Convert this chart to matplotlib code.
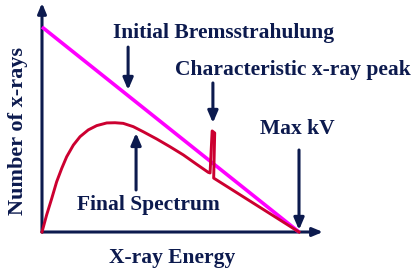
import matplotlib

matplotlib.use("Agg")
import matplotlib.pyplot as plt

# energy axis: 0 .. 100 (100 = max kV), counts: 0 .. 100 (bremsstrahlung start)
brems_x = [0, 100]
brems_y = [100, 0]

# final spectrum (hump, then the characteristic spike, then down to max kV)
final_x = [0, 1.8, 3.8, 5.7, 7.7, 9.6, 12.2, 14.8, 18.0, 21.3, 25.2, 28.4, 31.6, 35.5,
           39.4, 44.6, 49.8, 55.0, 60.2, 64.7, 65.4, 66.2, 67.2, 66.8, 100]
final_y = [0, 8.3, 16.4, 24.5, 31.1, 36.7, 42.4, 46.5, 49.8, 51.9, 53.2, 53.3, 53.0, 51.4,
           48.9, 45.4, 41.6, 37.6, 33.0, 29.1, 28.8, 49.3, 48.3, 26.3, 0]

NAVY = "#0c1a4e"
MAGENTA = "#ff00ff"
RED = "#cc0030"
FONT = dict(family="Liberation Serif", weight="bold", size=15.5, color=NAVY)

fig = plt.figure(figsize=(4.18, 2.72), dpi=100)
ax = fig.add_axes([0, 0, 1, 1])
ax.set_xlim(-16.34, 146.30)
ax.set_ylim(-19.51, 113.17)
ax.axis("off")

# axes drawn as arrows
axis_arrow = dict(arrowstyle="-|>,head_length=0.6,head_width=0.25", color=NAVY, lw=2.2,
                  shrinkA=0, shrinkB=0)
ax.annotate("", xy=(109.3, 0), xytext=(0, 0), arrowprops=axis_arrow)
ax.annotate("", xy=(0, 111.7), xytext=(0, 0), arrowprops=axis_arrow)

ax.plot(brems_x, brems_y, color=MAGENTA, lw=2.6, solid_capstyle="butt", zorder=3)
ax.plot(final_x, final_y, color=RED, lw=2.1, solid_joinstyle="round", zorder=4)

# labelling arrows
lab_arrow = dict(arrowstyle="-|>,head_length=0.7,head_width=0.3", color=NAVY, lw=2.2,
                 shrinkA=0, shrinkB=0)
ax.annotate("", xy=(33.5, 69.3), xytext=(33.5, 90.2), arrowprops=lab_arrow)
ax.annotate("", xy=(36.6, 48.3), xytext=(36.6, 20.5), arrowprops=lab_arrow)
ax.annotate("", xy=(66.5, 53.2), xytext=(66.5, 72.7), arrowprops=lab_arrow)
ax.annotate("", xy=(100, 1), xytext=(100, 40), arrowprops=lab_arrow)

ax.text(70.8, 97, "Initial Bremsstrahulung", ha="center", va="center", **FONT)
ax.text(97.7, 79, "Characteristic x-ray peak", ha="center", va="center", **FONT)
ax.text(99.2, 50.2, "Max kV", ha="center", va="center", **FONT)
ax.text(41.2, 13, "Final Spectrum", ha="center", va="center", **FONT)
ax.text(50.6, -12.7, "X-ray Energy", ha="center", va="center", **FONT)
ax.text(-9.3, 49.3, "Number of x-rays", ha="center", va="center", rotation=90,
        **{**FONT, "size": 16})

fig.savefig("out.png", dpi=100)
